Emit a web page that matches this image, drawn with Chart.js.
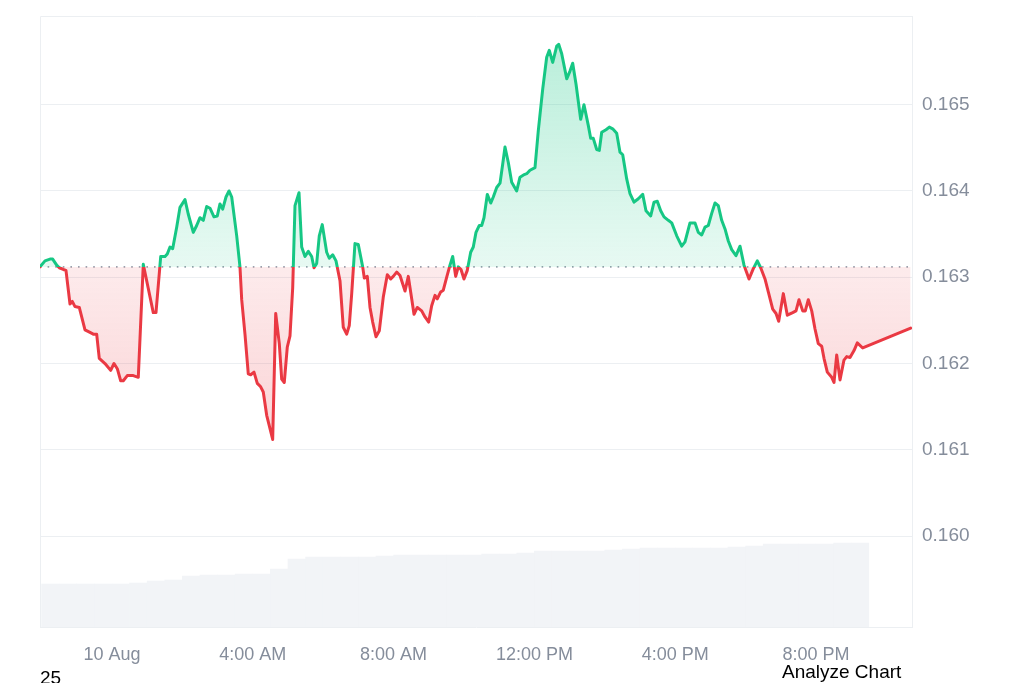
<!DOCTYPE html>
<html>
<head>
<meta charset="utf-8">
<script src="https://cdn.jsdelivr.net/npm/chart.js@4.4.1/dist/chart.umd.min.js"></script>
<style>
  html, body { margin: 0; padding: 0; background: #ffffff; width: 1024px; height: 683px; overflow: hidden; }
  #wrap { position: relative; width: 1024px; height: 683px; }
  canvas { position: absolute; left: 0; top: 0; }
  .txt { position: absolute; font-family: "Liberation Sans", Arial, sans-serif; font-size: 19px; line-height: 19px; color: #000; white-space: nowrap; }
</style>
</head>
<body>
<div id="wrap">
  <canvas id="c" width="1024" height="683"></canvas>
  <div class="txt" style="left:40px; top:668px;">25</div>
  <div class="txt" style="left:782px; top:662px;">Analyze Chart</div>
</div>
<script>
// ---- data (hours relative to 10 Aug 00:00) ----
const hoursFromMidnight = [
  -2.045,-1.903,-1.761,-1.685,-1.571,-1.497,-1.384,-1.307,-1.193,-1.128,
  -1.051,-0.929,-0.767,-0.625,-0.531,-0.435,-0.361,-0.199,-0.037,0.057,
  0.151,0.247,0.321,0.435,0.605,0.747,0.889,1.173,1.25,1.384,
  1.506,1.571,1.648,1.724,1.838,1.932,2.074,2.168,2.310,2.406,
  2.5,2.594,2.690,2.784,2.898,2.991,3.068,3.145,3.239,3.324,
  3.401,3.543,3.636,3.685,3.778,3.872,3.940,4.034,4.128,4.224,
  4.298,4.395,4.565,4.651,4.753,4.821,4.895,4.980,5.057,5.134,
  5.199,5.313,5.389,5.483,5.577,5.673,5.739,5.815,5.889,5.974,
  6.099,6.173,6.270,6.364,6.477,6.571,6.668,6.741,6.810,6.903,
  6.997,7.122,7.168,7.253,7.330,7.406,7.5,7.594,7.707,7.821,
  7.918,7.991,8.088,8.182,8.324,8.418,8.514,8.580,8.673,8.798,
  8.892,8.997,9.082,9.176,9.241,9.338,9.412,9.509,9.602,9.679,
  9.764,9.838,9.915,10.0,10.094,10.190,10.264,10.341,10.435,10.503,
  10.568,10.662,10.759,10.832,10.929,11.023,11.099,11.165,11.259,11.355,
  11.497,11.591,11.713,11.781,11.875,12.017,12.111,12.236,12.349,12.423,
  12.520,12.634,12.690,12.776,12.918,13.011,13.088,13.182,13.315,13.409,
  13.531,13.599,13.673,13.770,13.844,13.912,14.034,14.128,14.224,14.338,
  14.432,14.509,14.622,14.716,14.830,14.952,15.077,15.170,15.304,15.398,
  15.491,15.588,15.682,15.804,15.901,16.043,16.185,16.278,16.420,16.563,
  16.656,16.753,16.847,16.940,17.037,17.131,17.224,17.321,17.415,17.509,
  17.605,17.727,17.841,17.955,18.097,18.219,18.332,18.429,18.551,18.645,
  18.770,18.864,18.940,19.071,19.185,19.338,19.432,19.517,19.622,19.696,
  19.781,19.878,19.972,20.065,20.162,20.227,20.321,20.446,20.511,20.588,
  20.682,20.795,20.872,20.966,21.080,21.173,21.327,22.690
];
const prices = [
  0.16312,0.16319,0.16321,0.16321,0.16314,0.16311,0.16309,0.16308,0.16269,0.16272,
  0.16266,0.16265,0.16239,0.16236,0.16234,0.16234,0.16206,0.16200,0.16192,0.16200,
  0.16194,0.16180,0.16180,0.16186,0.16186,0.16184,0.16315,0.16259,0.16259,0.16324,
  0.16324,0.16327,0.16335,0.16333,0.16358,0.16381,0.16390,0.16373,0.16352,0.16360,
  0.16369,0.16366,0.16382,0.16380,0.16370,0.16371,0.16385,0.16379,0.16393,0.16400,
  0.16393,0.16348,0.16312,0.16274,0.16234,0.16188,0.16187,0.16190,0.16177,0.16173,
  0.16167,0.16140,0.16112,0.16258,0.16223,0.16182,0.16178,0.16219,0.16232,0.16288,
  0.16383,0.16398,0.16335,0.16324,0.16330,0.16324,0.16311,0.16316,0.16348,0.16361,
  0.16329,0.16322,0.16326,0.16319,0.16296,0.16242,0.16234,0.16244,0.16281,0.16339,
  0.16338,0.16312,0.16299,0.16301,0.16265,0.16248,0.16231,0.16238,0.16277,0.16303,
  0.16298,0.16301,0.16306,0.16302,0.16284,0.16301,0.16275,0.16257,0.16265,0.16261,
  0.16254,0.16248,0.16267,0.16279,0.16275,0.16283,0.16285,0.16300,0.16314,0.16324,
  0.16301,0.16312,0.16309,0.16298,0.16308,0.16329,0.16335,0.16352,0.16360,0.16360,
  0.16369,0.16396,0.16386,0.16393,0.16404,0.16409,0.16431,0.16451,0.16433,0.16410,
  0.16400,0.16416,0.16419,0.16420,0.16424,0.16427,0.16470,0.16518,0.16555,0.16563,
  0.16549,0.16568,0.16570,0.16559,0.16530,0.16539,0.16548,0.16524,0.16483,0.16500,
  0.16476,0.16461,0.16461,0.16448,0.16447,0.16468,0.16471,0.16474,0.16472,0.16467,
  0.16445,0.16442,0.16414,0.16397,0.16387,0.16391,0.16396,0.16377,0.16371,0.16387,
  0.16388,0.16377,0.16370,0.16366,0.16363,0.16348,0.16336,0.16341,0.16363,0.16363,
  0.16352,0.16349,0.16358,0.16360,0.16374,0.16386,0.16383,0.16366,0.16356,0.16342,
  0.16332,0.16325,0.16336,0.16314,0.16298,0.16310,0.16319,0.16311,0.16298,0.16283,
  0.16263,0.16258,0.16249,0.16281,0.16256,0.16259,0.16261,0.16274,0.16261,0.16261,
  0.16274,0.16261,0.16240,0.16223,0.16220,0.16206,0.16190,0.16184,0.16178,0.16210,
  0.16181,0.16204,0.16208,0.16207,0.16215,0.16224,0.16218,0.16241
];
const baselinePrice = 0.16312;

const volumeHours = [
  -1.75,-1.25,-0.75,-0.25,0.25,0.75,1.25,1.75,2.25,2.75,
  3.25,3.75,4.25,4.75,5.25,5.75,6.25,6.75,7.25,7.75,
  8.25,8.75,9.25,9.75,10.25,10.75,11.25,11.75,12.25,12.75,
  13.25,13.75,14.25,14.75,15.25,15.75,16.25,16.75,17.25,17.75,
  18.25,18.75,19.25,19.75,20.25,20.75,21.25
];
const volumes = [
  430,430,430,430,430,440,460,470,510,520,
  520,530,530,580,680,700,700,700,700,710,
  720,720,720,720,720,730,730,740,760,760,
  760,760,770,780,790,790,790,790,790,800,
  810,830,830,830,830,840,840
];

const xTickHours = [0, 4, 8, 12, 16, 20];
const xTickLabels = ["10 Aug", "4:00 AM", "8:00 AM", "12:00 PM", "4:00 PM", "8:00 PM"];
const yTicks = [0.160, 0.161, 0.162, 0.163, 0.164, 0.165];

const xMin = -2.045, xMax = 22.727;
const yMin = 0.158946, yMax = 0.166028;
const volMax = 6110;

// ---- styling ----
const GREEN = '#16c784';
const RED = '#ea3943';
const GRID = '#eceff2';
const TICK = '#858d9b';
const FONT = '"Liberation Sans", Arial, sans-serif';

function baseFrac(chart) {
  const a = chart.chartArea;
  const yb = chart.scales.y.getPixelForValue(baselinePrice);
  return { a, yb, f: Math.min(1, Math.max(0, (yb - a.top) / (a.bottom - a.top))) };
}
function lineGradient(chart) {
  if (!chart.chartArea) return GREEN;
  const { a, f } = baseFrac(chart);
  const g = chart.ctx.createLinearGradient(0, a.top, 0, a.bottom);
  g.addColorStop(0, GREEN); g.addColorStop(f, GREEN);
  g.addColorStop(f, RED); g.addColorStop(1, RED);
  return g;
}
function fillAbove(chart) {
  if (!chart.chartArea) return 'rgba(22,199,132,0.2)';
  const { a, yb } = baseFrac(chart);
  const g = chart.ctx.createLinearGradient(0, a.top, 0, yb);
  g.addColorStop(0, 'rgba(22,199,132,0.32)');
  g.addColorStop(1, 'rgba(22,199,132,0.10)');
  return g;
}
function fillBelow(chart) {
  if (!chart.chartArea) return 'rgba(234,57,67,0.2)';
  const { a, yb } = baseFrac(chart);
  const g = chart.ctx.createLinearGradient(0, yb, 0, a.bottom);
  g.addColorStop(0, 'rgba(234,57,67,0.10)');
  g.addColorStop(1, 'rgba(234,57,67,0.34)');
  return g;
}

const framePlugin = {
  id: 'frame',
  beforeDatasetsDraw(chart) {
    const { ctx, chartArea: a } = chart;
    ctx.save();
    ctx.strokeStyle = GRID;
    ctx.lineWidth = 1;
    ctx.beginPath();
    ctx.moveTo(a.left + 0.5, a.bottom);
    ctx.lineTo(a.left + 0.5, a.top + 0.5);
    ctx.lineTo(a.right, a.top + 0.5);
    ctx.stroke();
    ctx.restore();
  }
};

new Chart(document.getElementById('c'), {
  data: {
    datasets: [
      {
        type: 'line',
        label: 'Price',
        order: 0,
        data: hoursFromMidnight.map((h, i) => ({ x: h, y: prices[i] })),
        yAxisID: 'y',
        borderWidth: 3,
        tension: 0,
        pointRadius: 0,
        borderJoinStyle: 'round',
        borderCapStyle: 'round',
        borderColor: (ctx) => lineGradient(ctx.chart),
        fill: (ctx) => ({
          target: { value: baselinePrice },
          above: fillAbove(ctx.chart),
          below: fillBelow(ctx.chart)
        })
      },
      {
        type: 'line',
        label: 'Open',
        order: 1,
        data: [{ x: xMin, y: baselinePrice }, { x: xMax, y: baselinePrice }],
        yAxisID: 'y',
        borderColor: '#9aa1ad',
        borderWidth: 1.6,
        borderDash: [1.6, 6],
        pointRadius: 0,
        fill: false
      },
      {
        type: 'bar',
        label: 'Volume',
        order: 2,
        data: volumeHours.map((h, i) => ({ x: h, y: volumes[i] })),
        yAxisID: 'yv',
        backgroundColor: '#f2f4f7',
        borderWidth: 0,
        barPercentage: 1,
        categoryPercentage: 1
      }
    ]
  },
  options: {
    responsive: false,
    animation: false,
    layout: { padding: { left: 40, top: 16, right: 0, bottom: 0 } },
    plugins: { legend: { display: false }, tooltip: { enabled: false } },
    scales: {
      x: {
        type: 'linear',
        offset: false,
        min: xMin,
        max: xMax,
        afterBuildTicks: (s) => { s.ticks = xTickHours.map(v => ({ value: v })); },
        afterFit: (s) => { s.height = 56; s.paddingLeft = 0; s.paddingRight = 0; },
        ticks: {
          autoSkip: false,
          maxRotation: 0,
          padding: 17,
          color: TICK,
          font: { family: FONT, size: 18 },
          callback: (v, i) => xTickLabels[i]
        },
        grid: { display: false, drawTicks: false, offset: false },
        border: { display: true, color: GRID }
      },
      y: {
        type: 'linear',
        position: 'right',
        min: yMin,
        max: yMax,
        afterBuildTicks: (s) => { s.ticks = yTicks.map(v => ({ value: v })); },
        afterFit: (s) => { s.width = 112; s.paddingTop = 0; s.paddingBottom = 0; },
        ticks: {
          padding: 10,
          color: TICK,
          font: { family: FONT, size: 19 },
          callback: (v) => Number(v).toFixed(3)
        },
        grid: { color: GRID, drawTicks: false, lineWidth: 1 },
        border: { display: true, color: GRID }
      },
      yv: {
        type: 'linear',
        display: false,
        min: 0,
        max: volMax
      }
    }
  },
  plugins: [framePlugin]
});
</script>
</body>
</html>
